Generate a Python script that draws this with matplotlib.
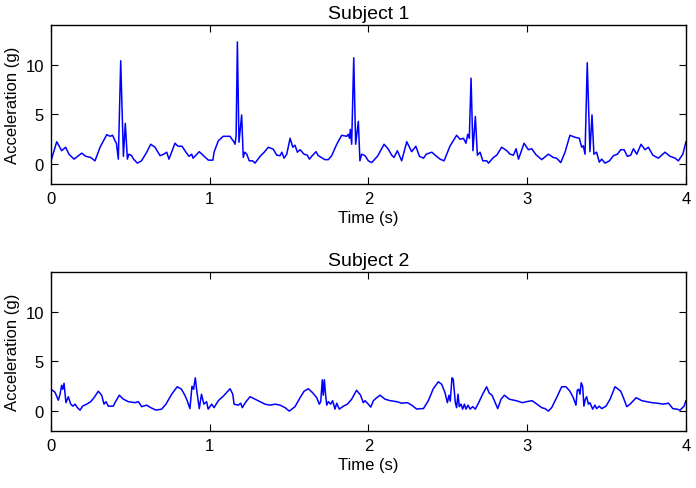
import numpy as np
import matplotlib
matplotlib.use('Agg')
import matplotlib.pyplot as plt

# Subject 1: time (s) and acceleration (g)
t1 = [0.0, 0.036, 0.067, 0.092, 0.113, 0.145, 0.193, 0.22, 0.25, 0.277, 0.309, 0.351, 0.372, 0.388,
      0.403, 0.412, 0.424, 0.439, 0.456, 0.468, 0.481, 0.49, 0.508, 0.52, 0.544, 0.57, 0.603, 0.628,
      0.655, 0.687, 0.71, 0.729, 0.743, 0.781, 0.80, 0.825, 0.85, 0.87, 0.886, 0.895, 0.934, 0.991,
      1.02, 1.027, 1.054, 1.085, 1.128, 1.14, 1.15, 1.159, 1.166, 1.174, 1.184, 1.201, 1.211, 1.22,
      1.233, 1.249, 1.27, 1.285, 1.317, 1.343, 1.369, 1.40, 1.422, 1.443, 1.454, 1.468, 1.485, 1.506,
      1.523, 1.537, 1.552, 1.569, 1.594, 1.615, 1.628, 1.642, 1.669, 1.684, 1.726, 1.747, 1.768, 1.80,
      1.831, 1.863, 1.873, 1.88, 1.886, 1.894, 1.907, 1.919, 1.936, 1.946, 1.957, 1.978, 1.999, 2.02,
      2.057, 2.098, 2.125, 2.146, 2.161, 2.182, 2.209, 2.241, 2.272, 2.298, 2.321, 2.347, 2.364, 2.399,
      2.42, 2.451, 2.476, 2.513, 2.555, 2.577, 2.598, 2.614, 2.625, 2.635, 2.646, 2.658, 2.673, 2.686,
      2.703, 2.72, 2.745, 2.756, 2.787, 2.808, 2.839, 2.871, 2.892, 2.913, 2.93, 2.945, 2.98, 3.007,
      3.028, 3.055, 3.091, 3.133, 3.164, 3.185, 3.211, 3.238, 3.269, 3.301, 3.328, 3.343, 3.353, 3.364,
      3.378, 3.395, 3.408, 3.42, 3.437, 3.454, 3.469, 3.49, 3.518, 3.543, 3.568, 3.589, 3.61, 3.631,
      3.652, 3.669, 3.69, 3.717, 3.742, 3.763, 3.791, 3.826, 3.868, 3.9, 3.931, 3.952, 3.98, 4.0]
a1 = [0.33, 2.25, 1.35, 1.7, 1.0, 0.5, 1.1, 0.78, 0.67, 0.33, 1.7, 2.96, 2.8, 2.9,
      2.35, 2.1, 0.5, 10.4, 0.78, 4.1, 0.5, 1.0, 0.85, 0.5, 0.1, 0.33, 1.2, 2.0,
      1.7, 0.85, 1.0, 1.2, 0.5, 2.1, 1.8, 1.8, 1.2, 0.78, 1.0, 0.6, 1.25, 0.4,
      0.4, 1.2, 2.35, 2.8, 2.8, 2.5, 2.3, 2.0, 2.8, 12.3, 2.2, 4.95, 0.68, 1.2,
      1.0, 0.33, 0.33, 0.1, 0.78, 1.2, 1.7, 1.5, 0.9, 0.85, 1.2, 0.6, 1.0, 2.6,
      1.7, 1.9, 1.2, 1.45, 1.0, 0.9, 0.5, 0.78, 1.25, 0.85, 0.45, 0.45, 0.85, 2.0,
      2.9, 2.8, 3.0, 2.6, 3.5, 2.0, 10.7, 2.0, 4.3, 0.33, 1.0, 0.85, 0.33, 0.15,
      0.8, 2.0, 1.5, 0.9, 0.67, 1.35, 0.33, 2.25, 1.25, 1.8, 0.78, 0.6, 1.0, 1.2,
      0.9, 0.5, 0.33, 1.8, 2.9, 2.5, 2.6, 2.1, 3.0, 2.6, 8.65, 1.35, 4.8, 0.9,
      1.2, 0.33, 0.33, 0.1, 0.67, 0.9, 1.7, 1.35, 1.0, 0.9, 1.55, 0.5, 2.1, 1.45,
      1.55, 0.95, 0.45, 1.0, 0.67, 0.6, 0.15, 1.2, 2.9, 2.7, 2.6, 1.7, 1.85, 1.0,
      10.2, 1.25, 4.95, 1.0, 1.2, 0.2, 0.5, 0.1, 0.33, 0.85, 1.0, 1.45, 1.45, 0.78,
      0.9, 1.55, 1.0, 2.0, 1.45, 1.7, 0.9, 0.6, 1.2, 0.78, 0.6, 0.33, 1.0, 2.25]

# Subject 2
t2 = [0.0, 0.025, 0.046, 0.057, 0.067, 0.074, 0.082, 0.094, 0.109, 0.124, 0.138, 0.152, 0.166, 0.183,
      0.199, 0.225, 0.25, 0.271, 0.298, 0.319, 0.334, 0.346, 0.361, 0.393, 0.403, 0.43, 0.456, 0.487,
      0.529, 0.55, 0.571, 0.603, 0.628, 0.661, 0.697, 0.724, 0.76, 0.795, 0.822, 0.843, 0.858, 0.875,
      0.888, 0.898, 0.909, 0.917, 0.934, 0.948, 0.963, 0.98, 0.99, 1.012, 1.027, 1.054, 1.085, 1.128,
      1.145, 1.153, 1.18, 1.195, 1.205, 1.228, 1.254, 1.285, 1.317, 1.348, 1.38, 1.411, 1.443, 1.474,
      1.501, 1.537, 1.569, 1.594, 1.621, 1.648, 1.674, 1.69, 1.699, 1.709, 1.715, 1.722, 1.73, 1.737,
      1.747, 1.762, 1.774, 1.789, 1.80, 1.816, 1.842, 1.867, 1.894, 1.925, 1.95, 1.967, 1.978, 1.999,
      2.014, 2.031, 2.052, 2.073, 2.104, 2.136, 2.178, 2.209, 2.245, 2.272, 2.304, 2.325, 2.346, 2.377,
      2.408, 2.44, 2.461, 2.482, 2.497, 2.507, 2.515, 2.526, 2.534, 2.547, 2.555, 2.564, 2.572, 2.583,
      2.593, 2.604, 2.614, 2.627, 2.64, 2.656, 2.673, 2.694, 2.719, 2.744, 2.761, 2.778, 2.793, 2.814,
      2.835, 2.856, 2.887, 2.929, 2.971, 2.996, 3.03, 3.057, 3.091, 3.112, 3.133, 3.154, 3.185, 3.217,
      3.244, 3.269, 3.29, 3.307, 3.315, 3.324, 3.332, 3.34, 3.349, 3.357, 3.366, 3.374, 3.385, 3.395,
      3.412, 3.427, 3.437, 3.454, 3.469, 3.496, 3.522, 3.553, 3.574, 3.589, 3.606, 3.627, 3.648, 3.686,
      3.722, 3.753, 3.785, 3.817, 3.858, 3.89, 3.917, 3.942, 3.963, 3.988, 4.0]
a2 = [2.2, 1.9, 1.1, 1.7, 2.6, 2.2, 2.8, 0.85, 1.45, 0.7, 0.5, 0.7, 0.35, 0.1,
      0.5, 0.7, 0.95, 1.35, 2.0, 1.6, 0.7, 0.95, 0.5, 0.5, 0.85, 1.6, 1.2, 0.95,
      0.85, 0.95, 0.45, 0.6, 0.35, 0.1, 0.2, 0.7, 1.7, 2.45, 2.2, 1.6, 1.05, 0.25,
      2.5, 2.2, 3.35, 2.2, 0.25, 1.7, 0.7, 0.95, 0.2, 0.7, 0.35, 1.05, 1.5, 2.25,
      1.7, 0.7, 0.6, 0.8, 0.35, 0.95, 1.45, 1.2, 0.95, 0.7, 0.6, 0.7, 0.6, 0.35,
      0.0, 0.45, 1.35, 2.0, 2.25, 1.85, 1.35, 0.7, 0.95, 3.15, 1.6, 3.15, 1.6, 0.6,
      0.95, 0.7, 1.05, 0.2, 0.8, 0.2, 0.5, 0.7, 1.2, 2.1, 1.6, 0.85, 1.05, 0.7,
      0.4, 1.05, 1.35, 1.6, 1.2, 1.05, 0.95, 0.8, 0.85, 0.6, 0.2, 0.25, 0.25, 1.05,
      2.25, 2.95, 2.7, 1.85, 0.85, 1.6, 1.0, 3.35, 3.2, 0.85, 0.35, 1.7, 0.45, 0.7,
      0.2, 0.7, 0.2, 0.6, 0.2, 0.45, 0.2, 0.85, 1.7, 2.45, 1.8, 1.6, 1.05, 0.25,
      1.2, 1.6, 1.2, 1.05, 0.85, 0.95, 1.05, 0.75, 0.35, 0.25, 0.0, 0.35, 1.35, 2.45,
      2.45, 2.0, 1.35, 0.6, 2.1, 2.2, 1.7, 2.85, 2.5, 0.5, 1.2, 1.45, 0.7, 0.85,
      0.2, 0.6, 0.25, 0.5, 0.25, 0.5, 1.2, 2.45, 2.2, 2.0, 1.35, 0.45, 0.7, 1.35,
      1.05, 0.95, 0.85, 0.8, 0.7, 0.8, 0.25, 0.2, 0.1, 0.5, 1.05]

titles = ['Subject 1', 'Subject 2']

plt.rcParams['font.family'] = ['Liberation Sans', 'DejaVu Sans']

fig = plt.figure(figsize=(6.96, 4.89), dpi=100)
ax1 = fig.add_axes([0.0733, 0.6217, 0.9123, 0.3251])
ax2 = fig.add_axes([0.0733, 0.1166, 0.9123, 0.3251])

for ax, t, a, title in zip([ax1, ax2], [t1, t2], [a1, a2], titles):
    ax.plot(t, a, color='#0000ff', linewidth=1.1)
    ax.set_xlim(0, 4)
    ax.set_ylim(-2, 14)
    ax.set_xticks([0, 1, 2, 3, 4])
    ax.set_yticks([0, 5, 10])
    ax.tick_params(direction='in', top=True, right=True, labelsize=12, length=5, pad=5)
    ax.set_xlabel('Time (s)', fontsize=12, labelpad=3)
    ax.set_ylabel('Acceleration (g)', fontsize=12, labelpad=4)
    ax.set_title(title, fontsize=14, pad=5)
    for s in ax.spines.values():
        s.set_linewidth(1.0)

fig.savefig('out.png', dpi=100)
